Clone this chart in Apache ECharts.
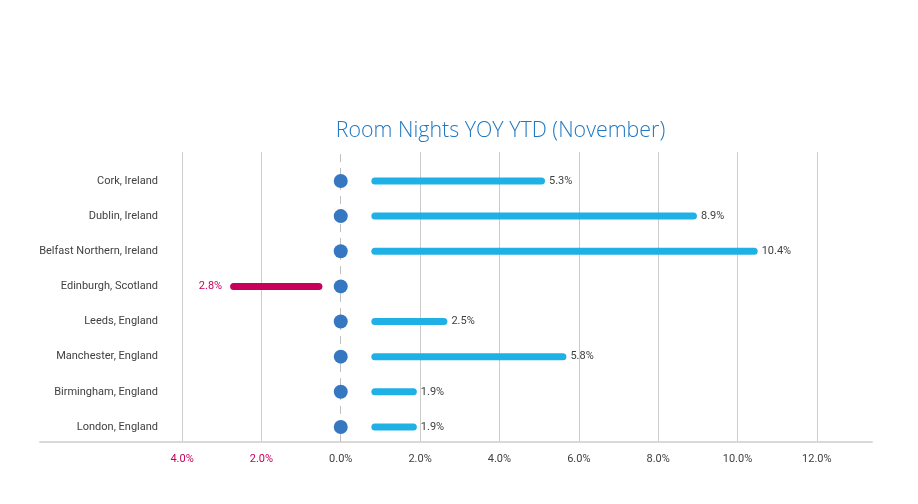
<!DOCTYPE html>
<html>
<head>
<meta charset="utf-8">
<script src="https://cdn.jsdelivr.net/npm/echarts@6/dist/echarts.min.js"></script>
<style>html,body{margin:0;padding:0;background:#fff;}#c{width:918px;height:504px;}</style>
</head>
<body>
<div id="c"></div>
<script>
const titleText = 'Room Nights YOY YTD (November)';
const categories = ['Cork, Ireland', 'Dublin, Ireland', 'Belfast Northern, Ireland', 'Edinburgh, Scotland', 'Leeds, England', 'Manchester, England', 'Birmingham, England', 'London, England'];
const labelValues = [5.3, 8.9, 10.4, -2.8, 2.5, 5.8, 1.9, 1.9];
const barStart = [0.86, 0.86, 0.86, -0.55, 0.86, 0.86, 0.86, 0.86];
const barEnd = [5.06, 8.89, 10.42, -2.70, 2.60, 5.60, 1.83, 1.83];
const xLabelValues = [-4, -2, 0, 2, 4, 6, 8, 10, 12];
const gridLineValues = [-4, -2, 2, 4, 6, 8, 10, 12];
const zeroLine = [0];

const X_MIN = -7.58, X_MAX = 13.39;
const POS = '#1fb1e6', NEG = '#c8005a', DOT = '#3577c1', TXT = '#404040';
const FONT = 'Roboto';

const chart = echarts.init(document.getElementById('c'), null, {renderer: 'canvas'});

const rows = categories.map((c, i) => [barStart[i], barEnd[i], i, labelValues[i]]);

chart.setOption({
  animation: false,
  backgroundColor: '#fff',
  title: {
    text: titleText, left: 495.5, textAlign: 'center', top: 115,
    textStyle: {color: '#1f78c1', fontSize: 21.4, fontWeight: 300, fontFamily: 'Open Sans'}
  },
  grid: [
    {left: 40, right: 46, top: 152, bottom: 62},
    {left: 40, right: 46, top: 163.4, height: 281.1}
  ],
  xAxis: [
    {
      gridIndex: 0, type: 'value', min: X_MIN, max: X_MAX,
      axisLine: {show: true, lineStyle: {color: '#d9d9d9', width: 2}},
      axisTick: {show: false, customValues: gridLineValues},
      splitLine: {show: true, lineStyle: {color: '#cccccc', width: 1}},
      axisLabel: {
        customValues: xLabelValues, margin: 12, fontSize: 11, fontFamily: FONT,
        formatter: v => Math.abs(v).toFixed(1) + '%',
        color: v => (v < 0 ? NEG : TXT)
      }
    },
    {gridIndex: 1, type: 'value', min: X_MIN, max: X_MAX, show: false}
  ],
  yAxis: [
    {gridIndex: 0, type: 'value', min: 0, max: 1, show: false},
    {
      gridIndex: 1, type: 'category', data: categories, inverse: true,
      offset: -126,
      axisLine: {show: false}, axisTick: {show: false}, splitLine: {show: false},
      axisLabel: {margin: 8, fontSize: 11, fontFamily: FONT, color: TXT}
    }
  ],
  series: [
    {
      type: 'line', xAxisIndex: 0, yAxisIndex: 0, data: [], silent: true, z: 1,
      markLine: {
        symbol: 'none', silent: true, label: {show: false}, z: 1,
        lineStyle: {color: '#bfbfbf', width: 1, type: [8, 6]},
        data: zeroLine.map(v => ({xAxis: v}))
      }
    },
    {
      type: 'custom', xAxisIndex: 1, yAxisIndex: 1, data: rows, z: 3,
      encode: {x: [0, 1], y: 2},
      renderItem: (params, api) => {
        const s = api.coord([api.value(0), api.value(2)]);
        const e = api.coord([api.value(1), api.value(2)]);
        const v = api.value(3);
        const neg = v < 0;
        const col = neg ? NEG : POS;
        const capR = 3.5;
        return {
          type: 'group',
          children: [
            {type: 'line', shape: {x1: s[0], y1: s[1], x2: e[0], y2: e[1]},
             style: {stroke: col, lineWidth: 7, lineCap: 'round'}},
            {type: 'text', x: e[0] + (neg ? -(capR + 8) : (capR + 4)), y: e[1],
             style: {text: Math.abs(v).toFixed(1) + '%', fill: neg ? NEG : TXT,
                     font: '11px ' + FONT, align: neg ? 'right' : 'left', verticalAlign: 'middle'}}
          ]
        };
      }
    },
    {
      type: 'scatter', xAxisIndex: 1, yAxisIndex: 1, z: 5,
      data: categories.map((c, i) => [0, i]),
      symbolSize: 14, itemStyle: {color: DOT, opacity: 1}
    }
  ]
});
</script>
</body>
</html>
